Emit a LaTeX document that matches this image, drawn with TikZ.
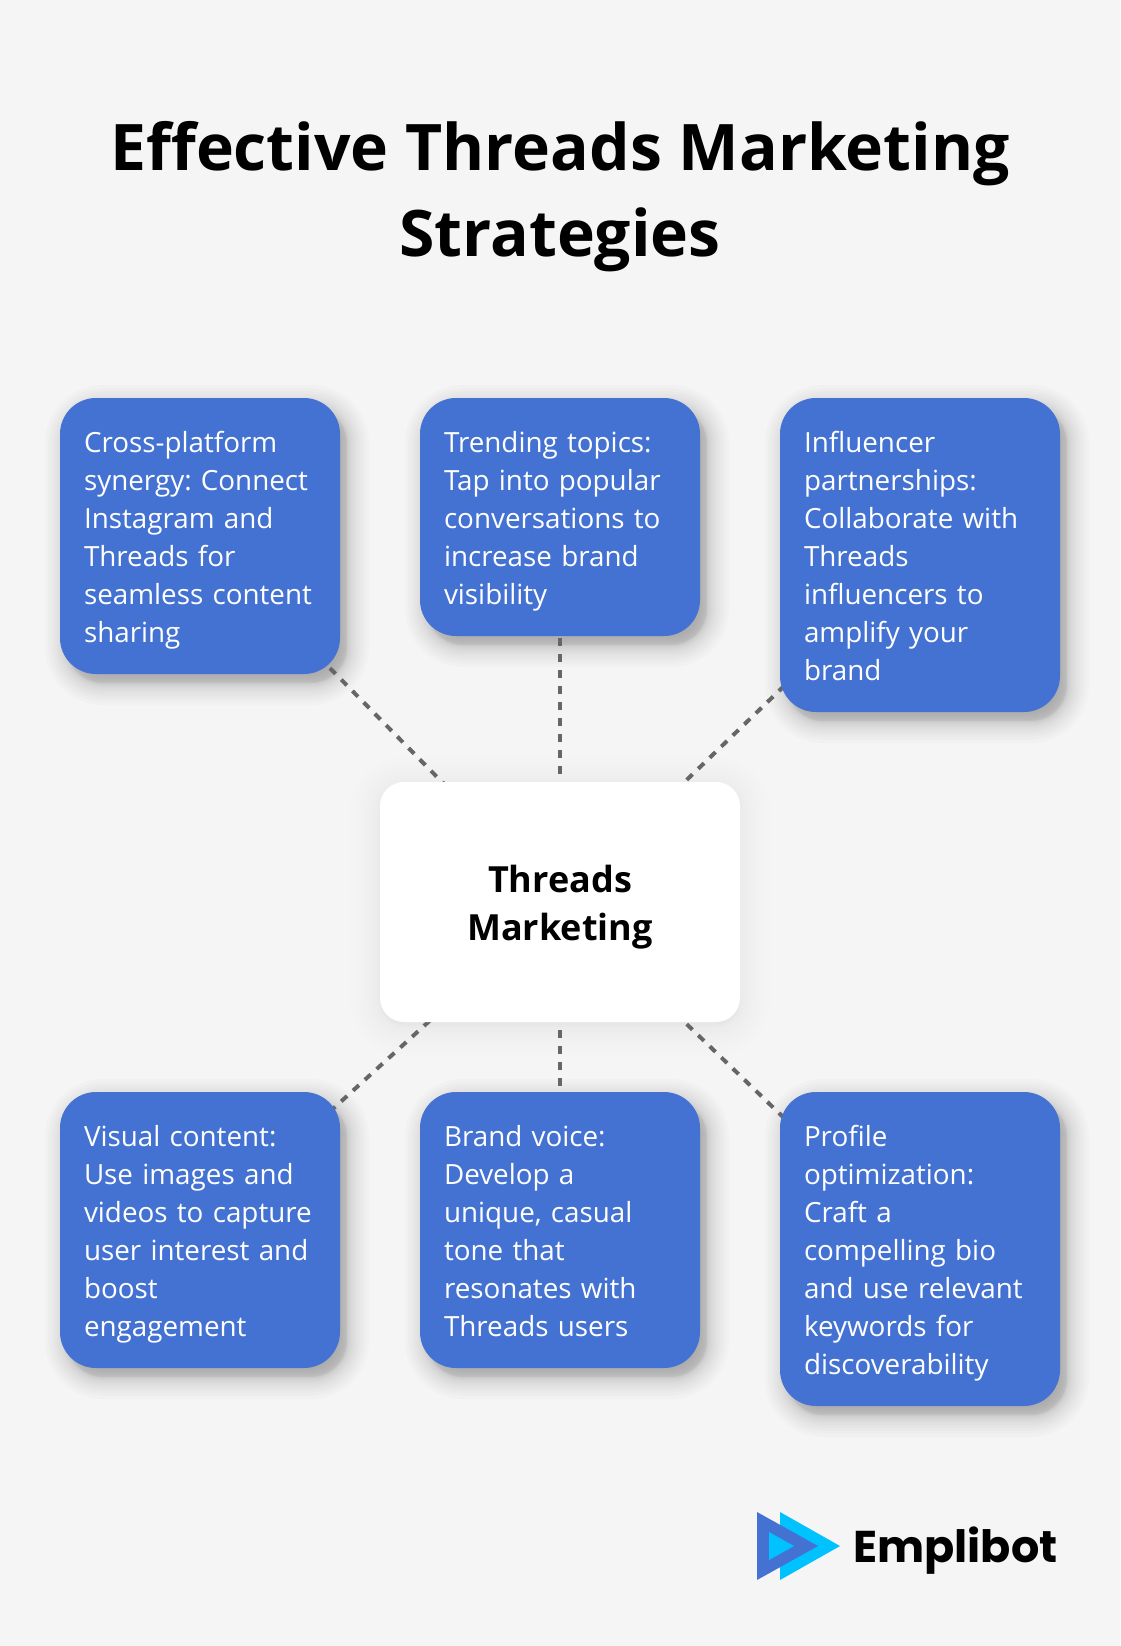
\documentclass[tikz,border=0pt]{standalone}
\usepackage{fontspec}
\setmainfont{Open Sans}
\newfontfamily\logofont{Poppins}
\usetikzlibrary{calc,backgrounds}
\definecolor{pagebg}{HTML}{F5F5F5}
\definecolor{cardblue}{HTML}{4472D3}
\definecolor{linegrey}{HTML}{666666}
\definecolor{logocyan}{HTML}{00C2FF}
\pgfdeclarelayer{shadowlayer}
\pgfdeclarelayer{linelayer}
\pgfsetlayers{background,shadowlayer,linelayer,main}
\newcommand{\cs}{\rule[-8.1pt]{0pt}{39pt}}
\newcommand{\ce}{\rule[-7.1pt]{0pt}{38pt}}
\newcommand{\hs}{\rule[-10pt]{0pt}{48.5pt}}
\tikzset{
  card/.style={anchor=north west,fill=cardblue,text=white,rounded corners=36pt,
    minimum width=280pt,inner sep=0pt,outer sep=0pt,align=left,text width=232pt,
    font=\fontsize{27.8}{38}\selectfont\frenchspacing},
  hub/.style={fill=white,text=black,rounded corners=24pt,minimum width=360pt,minimum height=240pt,
    inner sep=0pt,outer sep=0pt,align=center,font=\fontsize{36}{48.5}\selectfont\bfseries},
  headline/.style={text=black,align=center,inner sep=0pt,font=\fontsize{64.2}{86}\selectfont\bfseries},
  wordmark/.style={text=black,inner sep=0pt,anchor=base west,font=\logofont\bfseries\fontsize{44.5}{50}\selectfont},
  dashlink/.style={draw=linegrey,line width=4pt,dash pattern=on 8pt off 8pt},
}
% blurred shadow: node, dx, dy, blur, radius, total opacity
\newcommand{\softshadow}[6]{%
  \foreach \i in {0,...,23}{%
    \pgfmathsetmacro{\uu}{1-2*\i/23}%
    \pgfmathsetmacro{\ee}{#4*\uu*abs(\uu)^0.8}%
    \pgfmathsetmacro{\rr}{max(#5+\ee,2)}%
    \fill[black,fill opacity=#6/24,rounded corners=\rr pt]
      ($(#1.south west)+(#2-\ee,#3+\ee)$) rectangle ($(#1.north east)+(#2+\ee,#3-\ee)$);
  }%
}
\begin{document}
\begin{tikzpicture}[x=1pt,y=-1pt]
\useasboundingbox (0,0) rectangle (1120,1646);
\begin{scope}[on background layer]
  \fill[pagebg] (0,0) rectangle (1120,1646);
\end{scope}

\node[headline] (title) at (560,196.5) {Effective Threads Marketing\\Strategies};

\node[hub] (hub) at (560,902) {\hs Threads\\Marketing\hs};

\node[card,minimum height=276pt] (c1) at (60,398) {\cs Cross-platform\\synergy: Connect\\Instagram and\\Threads for\\seamless content\\sharing\ce};
\node[card,minimum height=238pt] (c2) at (420,398) {\cs Trending topics:\\Tap into popular\\conversations to\\increase brand\\visibility\ce};
\node[card,minimum height=314pt] (c3) at (780,398) {\cs Influencer\\partnerships:\\Collaborate with\\Threads\\influencers to\\amplify your\\brand\ce};
\node[card,minimum height=276pt] (c4) at (60,1092) {\cs Visual content:\\Use images and\\videos to capture\\user interest and\\boost\\engagement\ce};
\node[card,minimum height=276pt] (c5) at (420,1092) {\cs Brand voice:\\Develop a\\unique, casual\\tone that\\resonates with\\Threads users\ce};
\node[card,minimum height=314pt] (c6) at (780,1092) {\cs Profile\\optimization:\\Craft a\\compelling bio\\and use relevant\\keywords for\\discoverability\ce};

\begin{pgfonlayer}{shadowlayer}
  \foreach \n in {c1,c2,c3,c4,c5,c6}{\softshadow{\n}{7}{9}{22}{36}{0.34}}
  \softshadow{hub}{0}{4}{30}{24}{0.12}
\end{pgfonlayer}

\begin{pgfonlayer}{linelayer}
  \foreach \n in {c1,c2,c3,c4,c5,c6}{\draw[dashlink] (hub.center) -- (\n.center);}
\end{pgfonlayer}

% logo
\coordinate (la) at (780,1512);
\coordinate (lb) at (780,1580);
\coordinate (lc) at (840,1546);
\fill[logocyan] (la) -- (lc) -- (lb) -- cycle;
\coordinate (ld) at (757,1512);
\coordinate (le) at (757,1580);
\coordinate (lf) at (818,1546);
\fill[cardblue] (ld) -- (lf) -- (le) -- cycle;
\coordinate (lg) at (769,1532);
\coordinate (lh) at (769,1560);
\coordinate (li) at (794,1546);
\fill[logocyan] (lg) -- (li) -- (lh) -- cycle;
\node[wordmark] (brand) at (853,1562.5) {Emplibot};
\end{tikzpicture}
\end{document}
